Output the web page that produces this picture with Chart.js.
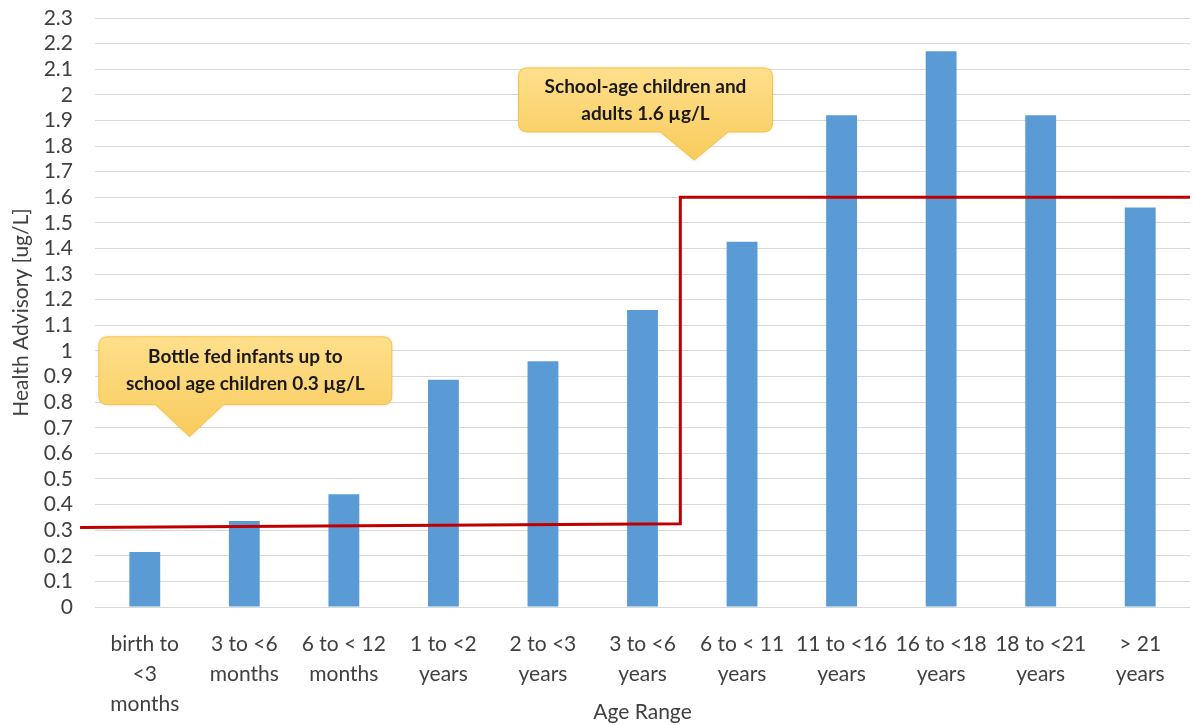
<!DOCTYPE html>
<html>
<head>
<meta charset="utf-8">
<script src="https://cdn.jsdelivr.net/npm/chart.js@4.4.1/dist/chart.umd.min.js"></script>
<style>
html,body{margin:0;padding:0;background:#fff;}
#wrap{width:1193px;height:725px;}
</style>
</head>
<body>
<div id="wrap"><canvas id="c" width="1193" height="725"></canvas></div>
<script>
const categories = [
  ['birth to','<3','months'],
  ['3 to <6','months'],
  ['6 to < 12','months'],
  ['1 to <2','years'],
  ['2 to <3','years'],
  ['3 to <6','years'],
  ['6 to < 11','years'],
  ['11 to <16','years'],
  ['16 to <18','years'],
  ['18 to <21','years'],
  ['> 21','years']
];
const healthAdvisory = [0.215, 0.336, 0.44, 0.887, 0.96, 1.16, 1.426, 1.92, 2.17, 1.92, 1.56];
// step line: category-position x, value y
const limitX = [-0.65, 5.38, 5.38, 10.5];
const limitY = [0.31, 0.325, 1.6, 1.6];
const yMin = 0, yMax = 2.3, yStep = 0.1;
const callouts = [
  {lines:['Bottle fed infants up to','school age children 0.3 \u00b5g/L'], cx:1.01, top:1.055, bottom:0.79, tipX:0.45, tipY:0.665, w:293},
  {lines:['School-age children and','adults 1.6 \u00b5g/L'], cx:5.03, top:2.105, bottom:1.855, tipX:5.52, tipY:1.745, w:254}
];

const FONT = "Lato, 'Open Sans', sans-serif";

const calloutPlugin = {
  id:'callouts',
  afterDatasetsDraw(chart){
    const ctx = chart.ctx;
    const xs = chart.scales.x, ys = chart.scales.y;
    callouts.forEach(c=>{
      const cx = xs.getPixelForValue(c.cx);
      const top = ys.getPixelForValue(c.top);
      const bot = ys.getPixelForValue(c.bottom);
      const tx = xs.getPixelForValue(c.tipX);
      const ty = ys.getPixelForValue(c.tipY);
      const l = cx - c.w/2, r = cx + c.w/2, rad = 9;
      const b1 = tx - 34, b2 = tx + 34;
      ctx.save();
      ctx.beginPath();
      ctx.moveTo(l+rad, top);
      ctx.lineTo(r-rad, top);
      ctx.quadraticCurveTo(r, top, r, top+rad);
      ctx.lineTo(r, bot-rad);
      ctx.quadraticCurveTo(r, bot, r-rad, bot);
      ctx.lineTo(b2, bot);
      ctx.lineTo(tx, ty);
      ctx.lineTo(b1, bot);
      ctx.lineTo(l+rad, bot);
      ctx.quadraticCurveTo(l, bot, l, bot-rad);
      ctx.lineTo(l, top+rad);
      ctx.quadraticCurveTo(l, top, l+rad, top);
      ctx.closePath();
      const g = ctx.createLinearGradient(0, top, 0, ty);
      g.addColorStop(0, '#FFDF8C');
      g.addColorStop(1, '#F8CB5C');
      ctx.shadowColor = 'rgba(0,0,0,0.10)';
      ctx.shadowBlur = 4;
      ctx.fillStyle = g;
      ctx.fill();
      ctx.shadowColor = 'transparent';
      ctx.strokeStyle = '#F4C542';
      ctx.lineWidth = 1;
      ctx.stroke();
      ctx.fillStyle = '#1a1a1a';
      ctx.font = "bold 19px " + FONT;
      ctx.textAlign = 'center';
      ctx.textBaseline = 'middle';
      const mid = (top+bot)/2, lh = 27;
      c.lines.forEach((t,i)=>{
        ctx.fillText(t, cx, mid + (i - (c.lines.length-1)/2)*lh);
      });
      ctx.restore();
    });
  }
};

new Chart(document.getElementById('c'), {
  type:'bar',
  data:{
    datasets:[
      {
        type:'bar',
        label:'Health Advisory',
        data: healthAdvisory.map((v,i)=>({x:i, y:v})),
        backgroundColor:'#5B9BD5',
        barPercentage:0.31,
        categoryPercentage:1,
        order:2
      },
      {
        type:'line',
        label:'Limit',
        data: limitX.map((x,i)=>({x:x, y:limitY[i]})),
        borderColor:'#C00000',
        borderWidth:3,
        pointRadius:0,
        fill:false,
        tension:0,
        clip:false,
        order:1
      }
    ]
  },
  options:{
    responsive:false,
    animation:false,
    layout:{padding:{top:18, right:3, left:0, bottom:0}},
    plugins:{legend:{display:false}, tooltip:{enabled:false}},
    scales:{
      x:{
        type:'linear',
        min:-0.5, max:categories.length-0.5,
        offset:false,
        grid:{display:false, drawTicks:false},
        border:{display:false},
        afterBuildTicks(s){ s.ticks = categories.map((_,i)=>({value:i})); },
        ticks:{color:'#404040', font:{family:FONT, size:21, lineHeight:1.43}, padding:22, maxRotation:0, autoSkip:false,
          callback:(v)=>categories[Math.round(v)]},
        title:{display:true, text:'Age Range', color:'#404040', font:{family:FONT, size:21}, padding:{top:0,bottom:0}},
        afterFit(s){ s.height = 118; s.paddingLeft = 0; s.paddingRight = 0; }
      },
      y:{
        min:yMin, max:yMax,
        ticks:{stepSize:yStep, maxTicksLimit:50, autoSkip:false, color:'#404040', font:{family:FONT, size:21}, padding:22,
          callback:(v)=>Math.round(v*10)/10 + ''},
        grid:{color:'#D9D9D9', drawTicks:false},
        border:{display:false},
        title:{display:true, text:'Health Advisory [ug/L]', color:'#404040', font:{family:FONT, size:21}, padding:{top:9,bottom:0}},
        afterFit(s){ s.width = 95; s.paddingTop = 0; s.paddingBottom = 0; }
      }
    }
  },
  plugins:[calloutPlugin]
});
</script>
</body>
</html>
